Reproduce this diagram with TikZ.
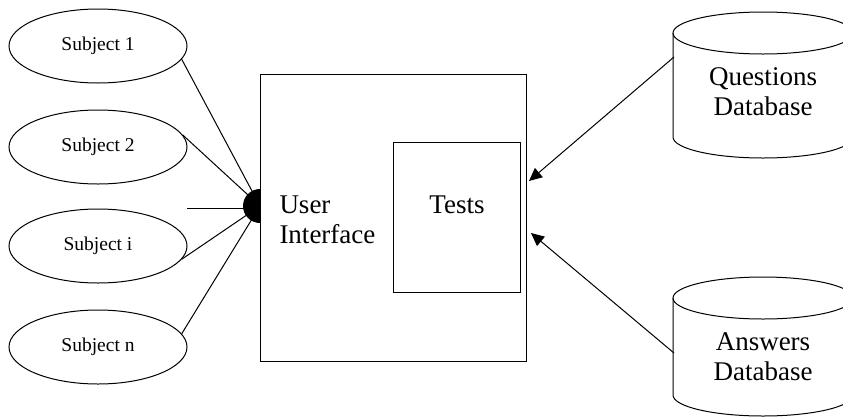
\documentclass[tikz,border=0pt]{standalone}
\usepackage{fontspec}
\setmainfont{Liberation Serif}
\usetikzlibrary{shapes.geometric,arrows.meta}
\begin{document}
\begin{tikzpicture}[x=1pt,y=-1pt,
  line width=1pt,
  subj/.style={draw,ellipse,minimum width=178pt,minimum height=74pt,inner sep=0pt,font=\fontsize{19.5}{22}\selectfont},
  big/.style={font=\fontsize{27}{30}\selectfont,inner sep=0pt},
  arr/.style={-{Triangle[length=13pt,width=12pt]}}]
\clip (0,0) rectangle (843,416);
\fill[white] (0,0) rectangle (843,416);
% main box
\node[draw,minimum width=266pt,minimum height=287pt,inner sep=0pt] (ui) at (393,217.5) {};
\node[draw,minimum width=127pt,minimum height=150pt,inner sep=0pt] (tests) at (456.5,217) {};
\node[big] (testslbl) at (457,205) {Tests};
\node[big,anchor=west,align=left] (uilbl) at (279,220) {User\\Interface};
% subjects
\node[subj] (s1) at (98,46) {Subject 1};
\node[subj] (s2) at (98,147) {Subject 2};
\node[subj] (si) at (98,246) {Subject i};
\node[subj] (sn) at (98,347) {Subject n};
\coordinate (hub) at (260,206);
\coordinate (hfree) at (187,208);
\draw (s1.-9) -- (hub);
\draw (s2.8) -- (hub);
\draw (hfree) -- (hub |- hfree);
\draw (si.-9) -- (hub);
\draw (sn.9) -- (hub);
\begin{scope}
\clip (0,0) rectangle (260,416);
\fill (hub) circle[radius=17pt];
\end{scope}
% Questions database
\draw (673,33) -- (673,137) arc[start angle=180,end angle=360,x radius=90,y radius=-21] -- (853,33);
\draw (763,33) ellipse[x radius=90,y radius=21];
\node[big,align=center] (qdb) at (763,92) {Questions\\Database};
\coordinate (qa) at (674,57);
% Answers database
\draw (673,298) -- (673,395) arc[start angle=180,end angle=360,x radius=90,y radius=-21] -- (853,298);
\draw (763,298) ellipse[x radius=90,y radius=21];
\node[big,align=center] (adb) at (763,357) {Answers\\Database};
\coordinate (aa) at (674,353);
\coordinate (qt) at (529,181);
\coordinate (at) at (531,233);
\draw[arr] (qa) -- (qt);
\draw[arr] (aa) -- (at);
\end{tikzpicture}
\end{document}
